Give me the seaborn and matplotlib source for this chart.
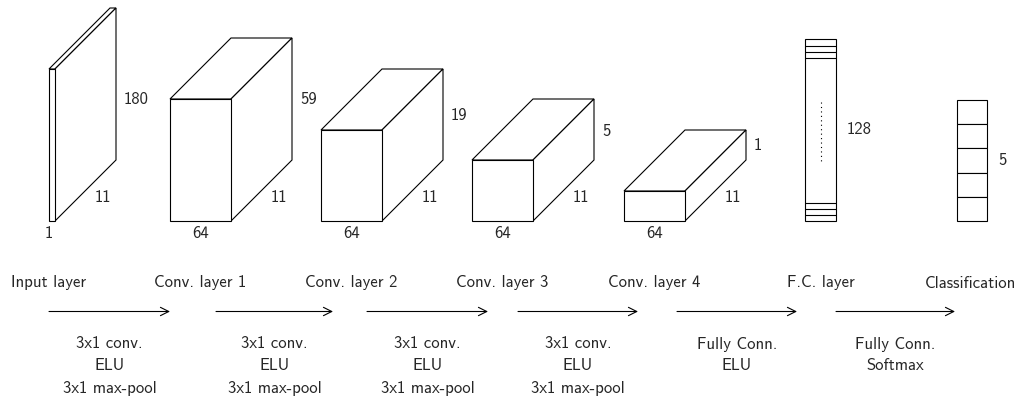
import numpy as np
import matplotlib
matplotlib.use("Agg")
import matplotlib.pyplot as plt
from matplotlib.patches import Polygon, Rectangle
import seaborn as sns

sns.set_theme(style="white")
plt.rcParams["font.family"] = ["cmss10", "DejaVu Sans"]
plt.rcParams["axes.unicode_minus"] = False

# ── data ───────────────────────────────────────────────
layer_names = ["Input layer", "Conv. layer 1", "Conv. layer 2", "Conv. layer 3",
               "Conv. layer 4", "F.C. layer", "Classification"]

# 3D blocks: width label, height label, depth label
block_w_labels = ["1", "64", "64", "64", "64"]
block_h_labels = ["180", "59", "19", "5", "1"]
block_d_labels = ["11", "11", "11", "11", "11"]

# drawn sizes (px) of the blocks
block_x = [49, 170, 321, 472, 624]
block_w = [6, 61, 61, 61, 61]
block_h = [152, 122, 91, 61, 30]
block_h_label_y = [100, 100, 115, 131, 146]
depth = 61
base_y = 221

fc_label = "128"
cls_label = "5"
n_cls = 5

op_texts = [
    ["3x1 conv.", "ELU", "3x1 max-pool"],
    ["3x1 conv.", "ELU", "3x1 max-pool"],
    ["3x1 conv.", "ELU", "3x1 max-pool"],
    ["3x1 conv.", "ELU", "3x1 max-pool"],
    ["Fully Conn.", "ELU"],
    ["Fully Conn.", "Softmax"],
]
arrow_x = [(49, 170), (216, 333), (367, 488), (518, 638), (677, 797), (836, 955)]
name_x = [49, 200, 351, 502, 654, 821, 970]

FS = 12
LW = 0.8
col = "black"

fig = plt.figure(figsize=(10.22, 4), dpi=100)
ax = fig.add_axes([0, 0, 1, 1])
ax.set_xlim(0, 1022)
ax.set_ylim(400, 0)
ax.axis("off")


def draw_block(x0, w, h, d):
    yb = base_y
    front = [(x0, yb), (x0 + w, yb), (x0 + w, yb - h), (x0, yb - h)]
    top = [(x0, yb - h), (x0 + d, yb - h - d), (x0 + w + d, yb - h - d), (x0 + w, yb - h)]
    side = [(x0 + w, yb), (x0 + w + d, yb - d), (x0 + w + d, yb - h - d), (x0 + w, yb - h)]
    for pts in (top, side, front):
        ax.add_patch(Polygon(pts, closed=True, facecolor="white", edgecolor=col,
                             lw=LW, joinstyle="miter"))


for i in range(len(block_x)):
    x0, w, h = block_x[i], block_w[i], block_h[i]
    draw_block(x0, w, h, depth)
    ax.text(x0 + w + depth + 8, block_h_label_y[i], block_h_labels[i],
            fontsize=FS, ha="left", va="center")
    ax.text(x0 + w + depth / 2 + 17, base_y - depth / 2 + 7, block_d_labels[i],
            fontsize=FS, ha="center", va="center")
    ax.text(x0 + w / 2 - (3 if w < 10 else 0), base_y + 13, block_w_labels[i],
            fontsize=FS, ha="center", va="center")

# fully connected layer
fc_x, fc_w, fc_top = 805, 31, 39
ax.add_patch(Rectangle((fc_x, fc_top), fc_w, base_y - fc_top, facecolor="white",
                       edgecolor=col, lw=LW))
for yy in [45.7, 51.7, 57.7, 202.7, 209, 215]:
    ax.plot([fc_x, fc_x + fc_w], [yy, yy], color=col, lw=LW)
ax.plot([fc_x + fc_w / 2] * 2, [102, 161], color=col, lw=0.8, ls=(0, (1, 3)))
ax.text(fc_x + fc_w + 11, (fc_top + base_y) / 2, fc_label, fontsize=FS,
        ha="left", va="center")

# classification layer
cl_x, cl_w, cl_top = 957, 30, 100
cell = (base_y - cl_top) / n_cls
for k in range(n_cls):
    ax.add_patch(Rectangle((cl_x, cl_top + k * cell), cl_w, cell, facecolor="white",
                           edgecolor=col, lw=LW))
ax.text(cl_x + cl_w + 11, (cl_top + base_y) / 2, cls_label, fontsize=FS,
        ha="left", va="center")

# layer names
for nm, xx in zip(layer_names, name_x):
    ax.text(xx, 283, nm, fontsize=FS, ha="center", va="center")

# arrows + operation text
for (xa, xb), lines in zip(arrow_x, op_texts):
    ax.annotate("", xy=(xb, 311.5), xytext=(xa, 311.5),
                arrowprops=dict(arrowstyle="->,head_length=0.5,head_width=0.25",
                                lw=LW, color=col, shrinkA=0, shrinkB=0))
    xc = (xa + xb) / 2
    for j, ln in enumerate(lines):
        ax.text(xc, 344 + j * 22, ln, fontsize=FS, ha="center", va="center")

fig.savefig("out.png", dpi=100, facecolor="white")
